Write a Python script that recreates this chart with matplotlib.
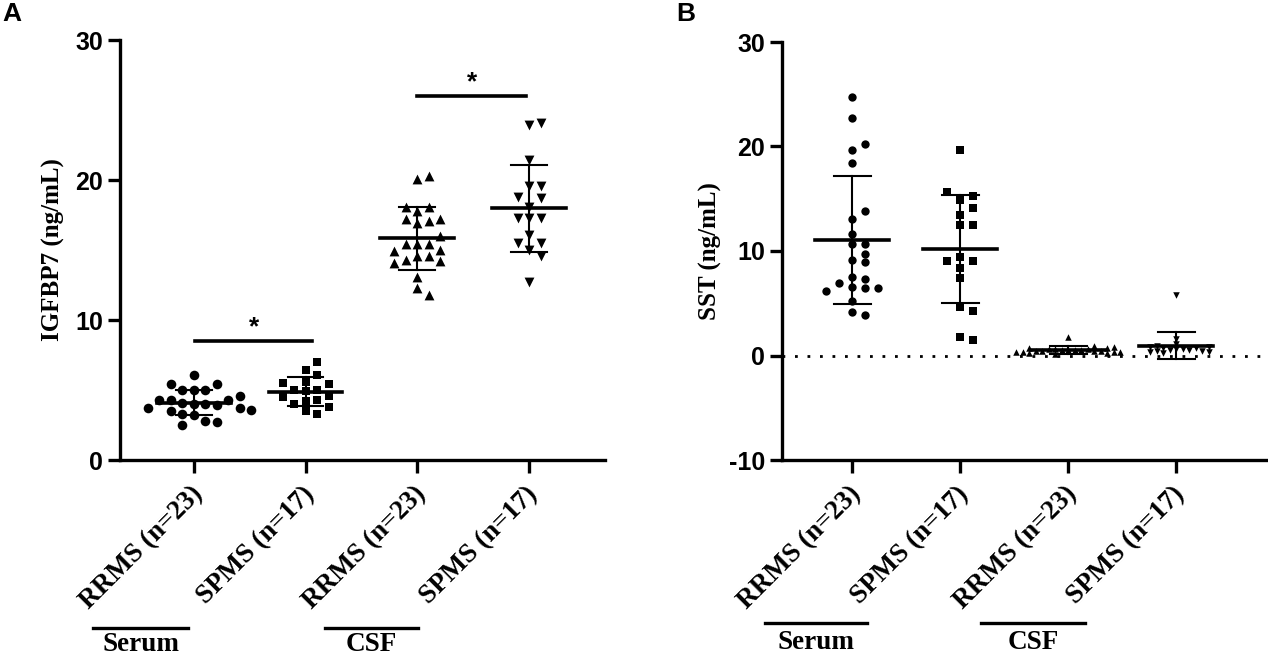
import numpy as np
import matplotlib
matplotlib.use('Agg')
import matplotlib.pyplot as plt
from matplotlib.transforms import blended_transform_factory, ScaledTranslation

# group labels
groups = ['RRMS (n=23)', 'SPMS (n=17)', 'RRMS (n=23)', 'SPMS (n=17)']

# panel A: IGFBP7 (ng/mL)
igf_serum_rrms = [6.1, 5.4, 5.4, 5.0, 5.0, 5.0, 4.6, 4.3, 4.3, 4.3, 4.1, 4.0,
                  4.0, 3.9, 3.7, 3.7, 3.6, 3.5, 3.3, 3.2, 2.8, 2.7, 2.5]
igf_serum_spms = [7.0, 6.4, 6.1, 5.6, 5.5, 5.4, 5.0, 5.0, 4.9, 4.6, 4.5, 4.3,
                  4.2, 4.0, 3.8, 3.5, 3.3]
igf_csf_rrms = [20.3, 20.1, 18.1, 18.1, 17.8, 17.2, 17.2, 17.1, 16.9, 16.0, 15.4,
                15.4, 15.4, 15.0, 14.9, 14.6, 14.6, 14.1, 14.2, 14.3, 13.1, 12.3, 11.8]
igf_csf_spms = [24.1, 23.9, 21.4, 19.6, 19.6, 18.8, 18.7, 18.1, 17.3, 17.3, 17.3,
                16.1, 15.5, 15.5, 15.0, 14.6, 12.7]

# panel B: SST (ng/mL)
sst_serum_rrms = [24.7, 22.7, 20.2, 19.7, 18.4, 13.8, 13.1, 11.6, 10.7, 10.7, 9.7,
                  9.1, 8.9, 7.5, 7.3, 6.9, 6.6, 6.5, 6.2, 6.5, 5.2, 4.2, 3.9]
sst_serum_spms = [19.7, 15.6, 15.3, 14.9, 14.1, 13.4, 12.5, 12.5, 9.4, 9.0, 9.0,
                  8.4, 7.4, 4.6, 4.3, 1.8, 1.5]
sst_csf_rrms = [1.8, 0.9, 0.8, 0.7, 0.7, 0.6, 0.6, 0.6, 0.5, 0.5, 0.5, 0.5, 0.4,
                0.4, 0.4, 0.4, 0.3, 0.3, 0.3, 0.3, 0.2, 0.2, 0.1]
sst_csf_spms = [5.8, 1.6, 1.1, 0.9, 0.8, 0.8, 0.7, 0.7, 0.6, 0.6, 0.5, 0.5, 0.4,
                0.4, 0.3, 0.3, 0.2]

markers = ['o', 's', '^', 'v']

SANS = 'Liberation Sans'
SERIF = 'Liberation Serif'

fig = plt.figure(figsize=(12.68, 6.61), dpi=100)


def swarm(ax, xc, vals, step_px, dist_px):
    # simple column beeswarm in pixel space, filled from the median outwards
    vals = np.asarray(vals, float)
    ys = ax.transData.transform(np.column_stack([np.full(len(vals), xc), vals]))[:, 1]
    px_x = ax.transData.transform((1, 0))[0] - ax.transData.transform((0, 0))[0]
    cols = {}
    offs = np.zeros(len(vals))
    cand = [0]
    for k in range(1, 30):
        cand += [k, -k]
    order = np.argsort(np.abs(ys - np.median(ys)), kind='stable')
    for i in order:
        for c in cand:
            if all(abs(ys[i] - y2) >= dist_px for y2 in cols.get(c, [])):
                cols.setdefault(c, []).append(ys[i])
                offs[i] = c * step_px / px_x
                break
    return xc + offs


def style_axes(ax, ylim, yticks, ylabel, label_x):
    ax.set_ylim(*ylim)
    ax.set_yticks(yticks)
    ax.set_yticklabels([str(t) for t in yticks], fontfamily=SANS,
                       fontweight='bold', fontsize=18)
    for s in ['top', 'right']:
        ax.spines[s].set_visible(False)
    for s in ['left', 'bottom']:
        ax.spines[s].set_linewidth(2.4)
    ax.tick_params(axis='both', width=2.4, length=9, pad=3)
    ax.set_xticks(range(4))
    ax.set_xticklabels(groups, rotation=45, ha='right', va='center',
                       rotation_mode='anchor', fontfamily=SERIF,
                       fontweight='bold', fontsize=19.5)
    ax.tick_params(axis='x', pad=13)
    for lab in ax.get_xticklabels():
        lab.set_transform(lab.get_transform() +
                          ScaledTranslation(0.05, 0, fig.dpi_scale_trans))
    ax.set_ylabel(ylabel, fontfamily=SERIF, fontweight='bold', fontsize=18)
    ax.yaxis.set_label_coords(label_x, 0.5)


def draw_groups(ax, data, sizes, steps, dists, half_mean=0.33, half_cap=0.16):
    for i, vals in enumerate(data):
        xs = swarm(ax, i, vals, steps[i], dists[i])
        ax.scatter(xs, vals, marker=markers[i], s=sizes[i], color='black',
                   linewidths=0, zorder=3, clip_on=False)
        m = np.mean(vals)
        sd = np.std(vals, ddof=1)
        ax.plot([i - half_mean, i + half_mean], [m, m], color='black', lw=2.6, zorder=4)
        ax.plot([i, i], [m - sd, m + sd], color='black', lw=1.5, zorder=4)
        for y in (m - sd, m + sd):
            ax.plot([i - half_cap, i + half_cap], [y, y], color='black', lw=1.5, zorder=4)


def group_lines(ax, spans, line_y, text_y):
    tr = blended_transform_factory(ax.transData, ax.transAxes)
    for (x0, x1), name in zip(spans, ['Serum', 'CSF']):
        ax.plot([x0, x1], [line_y, line_y], color='black', lw=2.4,
                transform=tr, clip_on=False)
        ax.text((x0 + x1) / 2, text_y, name, transform=tr, ha='center',
                va='baseline', fontfamily=SERIF, fontweight='bold', fontsize=19.5)


# ---- panel A ----
axA = fig.add_axes([120 / 1268, 1 - 460 / 661, 485 / 1268, 420 / 661])
axA.set_xlim(-0.66, 3.68)
style_axes(axA, (0, 30), [0, 10, 20, 30], 'IGFBP7 (ng/mL)', -0.113)
draw_groups(axA, [igf_serum_rrms, igf_serum_spms, igf_csf_rrms, igf_csf_spms],
            sizes=[48, 38, 50, 50], steps=[11.5] * 4, dists=[10, 9.5, 10, 10])
# significance bars
axA.plot([0.015, 1.06], [8.5, 8.5], color='black', lw=2.6)
axA.text(0.54, 8.6, '*', ha='center', va='bottom', fontfamily=SANS,
         fontweight='bold', fontsize=19)
axA.plot([2.0, 2.97], [26.0, 26.0], color='black', lw=2.6)
axA.text(2.49, 26.1, '*', ha='center', va='bottom', fontfamily=SANS,
         fontweight='bold', fontsize=19)
group_lines(axA, [(-0.9, -0.05), (1.17, 2.01)], -0.40, -0.455)

# ---- panel B ----
axB = fig.add_axes([782 / 1268, 1 - 460 / 661, 486 / 1268, 418 / 661])
axB.set_xlim(-0.65, 3.85)
style_axes(axB, (-10, 30), [-10, 0, 10, 20, 30], 'SST (ng/mL)', -0.123)
axB.axhline(0, color='black', lw=2, linestyle=(0, (1, 3.5)), zorder=1)
draw_groups(axB, [sst_serum_rrms, sst_serum_spms, sst_csf_rrms, sst_csf_spms],
            sizes=[36, 30, 22, 22], steps=[13, 13, 6.5, 6.5], dists=[8, 7.5, 5, 5],
            half_mean=0.34, half_cap=0.17)
group_lines(axB, [(-0.81, 0.14), (1.19, 2.16)], -0.39, -0.452)

fig.text(2 / 1268, 1 - 2 / 661, 'A', ha='left', va='top', fontfamily=SANS,
         fontweight='bold', fontsize=19)
fig.text(676 / 1268, 1 - 2 / 661, 'B', ha='left', va='top', fontfamily=SANS,
         fontweight='bold', fontsize=19)

fig.savefig('out.png', dpi=100)
